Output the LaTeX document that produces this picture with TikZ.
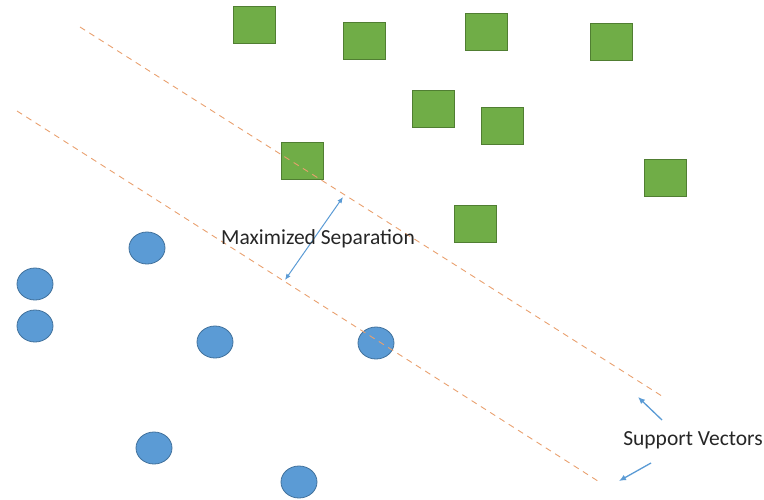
\documentclass[tikz,border=0pt]{standalone}
\usepackage{fontspec}
\setmainfont{Carlito}
\usetikzlibrary{arrows.meta,shapes.geometric}
\definecolor{sqfill}{HTML}{70AD47}
\definecolor{sqdraw}{HTML}{507E32}
\definecolor{cifill}{HTML}{5B9BD5}
\definecolor{cidraw}{HTML}{41719C}
\definecolor{hyper}{HTML}{E9A06E}
\definecolor{arr}{HTML}{5B9BD5}
\tikzset{
  sq/.style={draw=sqdraw, fill=sqfill, line width=0.8pt, minimum width=42pt, minimum height=37pt, inner sep=0pt},
  ci/.style={draw=cidraw, fill=cifill, line width=0.8pt, ellipse, minimum width=36pt, minimum height=32pt, inner sep=0pt},
  hyp/.style={draw=hyper, dash pattern=on 6pt off 5pt, line width=0.9pt},
  pointer/.style={draw=arr, line width=1.3pt, -{Latex[length=7pt,width=6pt]}},
  lbl/.style={font=\fontsize{21.5}{24}\selectfont, text=black!85, inner sep=1pt}
}
\begin{document}
\begin{tikzpicture}[x=1pt,y=-1pt]
\useasboundingbox (0,0) rectangle (764,499);
% squares
\node[sq] (s1) at (254,25) {};
\node[sq] (s2) at (364,41) {};
\node[sq] (s3) at (486,32) {};
\node[sq] (s4) at (611,42) {};
\node[sq] (s5) at (433,109) {};
\node[sq] (s6) at (502,126) {};
\node[sq] (s7) at (302,161) {};
\node[sq] (s8) at (665,178) {};
\node[sq] (s9) at (475,224) {};
% circles
\node[ci] (c1) at (147,248) {};
\node[ci] (c2) at (35,284) {};
\node[ci] (c3) at (35,326) {};
\node[ci] (c4) at (215,342) {};
\node[ci] (c5) at (376,343) {};
\node[ci] (c6) at (154,448) {};
\node[ci] (c7) at (299,482) {};
% hyperplanes
\coordinate (u1) at (80,27);
\coordinate (u2) at (665,398);
\coordinate (l1) at (17,111);
\coordinate (l2) at (601,483);
\draw[hyp] (u1) -- (u2);
\draw[hyp] (l1) -- (l2);
% separation arrow
\coordinate (m1) at (285,280);
\coordinate (m2) at (343,197);
\draw[draw=arr, line width=1pt, {Latex[length=6pt,width=5pt]}-{Latex[length=6pt,width=5pt]}] (m1) -- (m2);
\node[lbl] (ms) at (318,239) {Maximized Separation};
% support vectors
\node[lbl] (sv) at (693,440) {Support Vectors};
\coordinate (a1s) at (662,420);
\coordinate (a1e) at (638,397);
\coordinate (a2s) at (651,463);
\coordinate (a2e) at (619,481);
\draw[pointer] (a1s) -- (a1e);
\draw[pointer] (a2s) -- (a2e);
\end{tikzpicture}
\end{document}
